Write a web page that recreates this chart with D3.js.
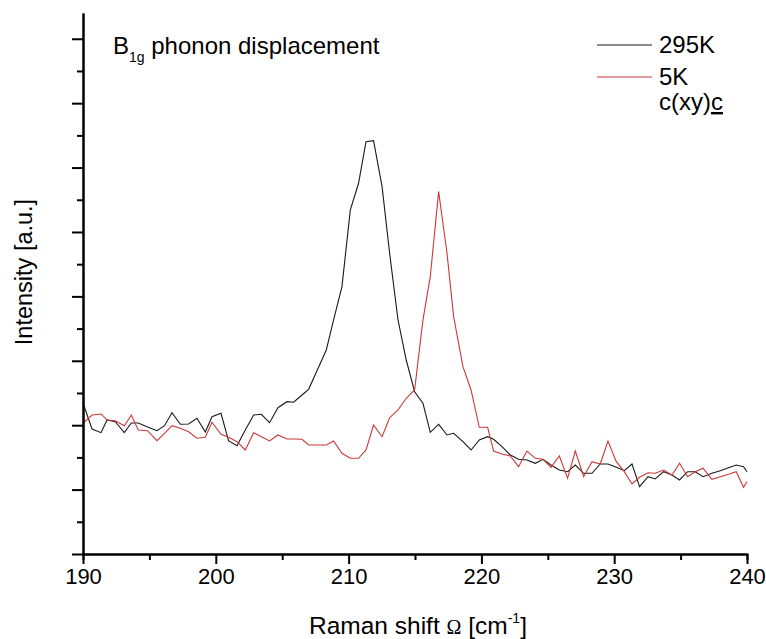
<!DOCTYPE html>
<html>
<head>
<meta charset="utf-8">
<script src="https://cdn.jsdelivr.net/npm/d3@7"></script>
<style>
  body { margin: 0; background: #fff; }
  text { font-family: "Liberation Sans", Arial, sans-serif; fill: #000; }
</style>
</head>
<body>
<div id="chart"></div>
<script>
// Raman shift (cm^-1), shared by both spectra
const shift = [190.00, 190.68, 191.36, 191.81, 192.43, 193.11, 193.64, 194.16, 194.86, 195.57,
  196.14, 196.70, 197.33, 197.95, 198.58, 199.21, 199.71, 200.39, 200.96, 201.60,
  202.22, 202.85, 203.43, 204.05, 204.68, 205.36, 205.86, 206.49, 206.99, 207.62,
  208.32, 208.87, 209.50, 210.13, 210.75, 211.31, 211.88, 212.52, 213.09, 213.72,
  214.34, 214.97, 215.60, 216.15, 216.78, 217.41, 217.91, 218.61, 219.22, 219.84,
  220.47, 220.92, 221.55, 222.18, 222.80, 223.43, 224.06, 224.64, 225.24, 225.87,
  226.49, 227.07, 227.70, 228.33, 228.95, 229.53, 230.16, 230.76, 231.34, 231.91,
  232.55, 233.09, 233.72, 234.35, 234.92, 235.53, 236.11, 236.69, 237.36, 237.99,
  238.61, 239.19, 239.74, 240.00];

// 295K intensity (a.u.)
const i295 = [2.345, 1.941, 1.884, 2.081, 2.054, 1.884, 2.034, 2.034, 1.972, 1.915,
  1.992, 2.194, 2.014, 2.019, 2.107, 1.894, 2.132, 2.185, 1.759, 1.682,
  1.925, 2.158, 2.169, 2.039, 2.272, 2.365, 2.356, 2.469, 2.557, 2.846,
  3.168, 3.634, 4.151, 5.342, 5.756, 6.402, 6.418, 5.703, 4.669, 3.634,
  3.012, 2.520, 2.340, 1.890, 2.014, 1.848, 1.874, 1.744, 1.615, 1.770,
  1.821, 1.781, 1.666, 1.537, 1.470, 1.460, 1.408, 1.470, 1.382, 1.304,
  1.278, 1.382, 1.253, 1.253, 1.398, 1.398, 1.346, 1.293, 1.398, 1.045,
  1.200, 1.165, 1.278, 1.227, 1.149, 1.278, 1.278, 1.200, 1.253, 1.293,
  1.340, 1.382, 1.356, 1.278];

// 5K intensity (a.u.)
const i5 = [2.030, 2.158, 2.174, 2.081, 2.070, 1.992, 2.158, 1.925, 1.915, 1.759,
  1.874, 1.992, 1.952, 1.899, 1.797, 1.812, 2.045, 1.859, 1.812, 1.744,
  1.615, 1.884, 1.821, 1.755, 1.848, 1.786, 1.786, 1.781, 1.693, 1.693,
  1.693, 1.755, 1.564, 1.486, 1.486, 1.615, 2.003, 1.821, 2.116, 2.236,
  2.418, 2.547, 3.634, 4.306, 5.626, 4.669, 3.685, 2.908, 2.547, 1.967,
  1.967, 1.599, 1.553, 1.522, 1.356, 1.599, 1.486, 1.470, 1.346, 1.522,
  1.175, 1.599, 1.200, 1.433, 1.398, 1.755, 1.433, 1.278, 1.087, 1.191,
  1.262, 1.253, 1.304, 1.227, 1.408, 1.200, 1.278, 1.331, 1.160, 1.200,
  1.238, 1.278, 1.036, 1.123];

const xMajor = [190, 200, 210, 220, 230, 240];
const xMinor = [195, 205, 215, 225, 235];
const yMajor = [0, 1, 2, 3, 4, 5, 6, 7, 8];
const yMinor = [0.5, 1.5, 2.5, 3.5, 4.5, 5.5, 6.5, 7.5];

const series = [
  {name: "295K", values: i295, color: "#1a1a1a"},
  {name: "5K", values: i5, color: "#cc3838"}
];

const W = 766, H = 639;
const margin = {top: 13, right: 19, bottom: 85, left: 83},
  width = W - margin.left - margin.right,
  height = H - margin.top - margin.bottom;

const svg = d3.select("#chart").append("svg")
  .attr("width", W)
  .attr("height", H);
const g = svg.append("g")
  .attr("transform", "translate(" + margin.left + "," + margin.top + ")");

const x = d3.scaleLinear().domain([190, 240]).range([0, width]);
const y = d3.scaleLinear().domain([0, 8.4]).range([height, 0]);

// lines
const line = d3.line()
  .x((d, i) => x(shift[i]))
  .y(d => y(d));

series.forEach(s => {
  g.append("path")
    .datum(s.values)
    .attr("d", line)
    .attr("fill", "none")
    .attr("stroke", s.color)
    .attr("stroke-width", 1.1);
});

// axes
function styleAxis(sel) {
  sel.select(".domain").attr("stroke", "#000").attr("stroke-width", 2);
  sel.selectAll(".tick line").attr("stroke", "#000").attr("stroke-width", 2);
}

g.append("g")
  .attr("transform", "translate(0," + height + ")")
  .call(d3.axisBottom(x).tickValues(xMinor).tickSize(6).tickFormat(""))
  .call(styleAxis);
g.append("g")
  .attr("transform", "translate(0," + height + ")")
  .call(d3.axisBottom(x).tickValues(xMajor).tickSize(10).tickPadding(4).tickSizeOuter(0))
  .call(styleAxis)
  .call(a => a.selectAll("text")
    .style("font-size", "22px")
    .style("font-family", "Liberation Sans, Arial, sans-serif"));

g.append("g")
  .call(d3.axisLeft(y).tickValues(yMinor).tickSize(6).tickFormat("").tickSizeOuter(0))
  .call(styleAxis);
g.append("g")
  .call(d3.axisLeft(y).tickValues(yMajor).tickSize(11).tickFormat("").tickSizeOuter(0))
  .call(styleAxis);

// axis titles
const xt = svg.append("text")
  .attr("x", margin.left + width / 2 + 3)
  .attr("y", 634)
  .attr("text-anchor", "middle")
  .style("font-size", "24.5px");
xt.append("tspan").text("Raman shift ");
xt.append("tspan").style("font-family", "Liberation Serif, serif").style("font-size", "20px").text("\u03A9");
xt.append("tspan").text(" [cm");
xt.append("tspan").attr("dy", -11).style("font-size", "14px").text("-1");
xt.append("tspan").attr("dy", 11).text("]");

svg.append("text")
  .attr("transform", "translate(32,272) rotate(-90)")
  .attr("text-anchor", "middle")
  .style("font-size", "23.5px")
  .text("Intensity [a.u.]");

// label in the corner
const lbl = svg.append("text")
  .attr("x", 113)
  .attr("y", 54)
  .style("font-size", "24px");
lbl.append("tspan").text("B");
lbl.append("tspan").attr("dy", 8).style("font-size", "14px").text("1g");
lbl.append("tspan").attr("dy", -8).text(" phonon displacement");

// legend
const legend = svg.append("g").attr("transform", "translate(597,45)");
series.forEach((s, i) => {
  legend.append("line")
    .attr("x1", 0).attr("x2", 55)
    .attr("y1", i * 32).attr("y2", i * 32)
    .attr("stroke", s.color)
    .attr("stroke-width", 1.2);
  legend.append("text")
    .attr("x", 62)
    .attr("y", i * 32 + 8)
    .style("font-size", "24px")
    .text(s.name);
});
const cfg = legend.append("text")
  .attr("x", 62)
  .attr("y", 65)
  .style("font-size", "24px");
cfg.append("tspan").text("c(xy)");
cfg.append("tspan").style("text-decoration", "underline").text("c");
</script>
</body>
</html>
